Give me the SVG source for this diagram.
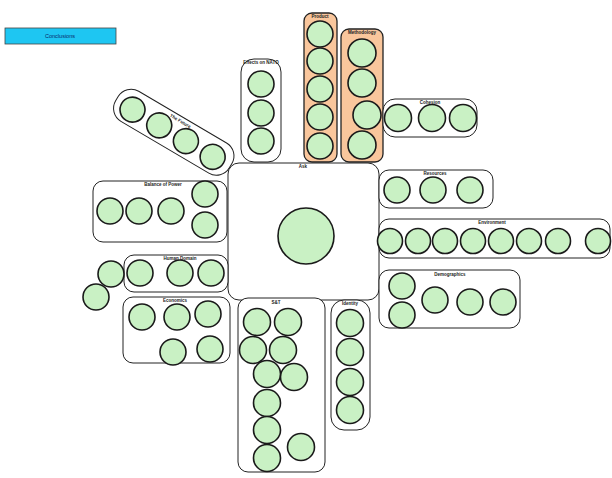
<svg xmlns="http://www.w3.org/2000/svg" width="612" height="478" viewBox="0 0 612 478">
<style>
.box{fill:#ffffff;stroke:#222;stroke-width:1}
.org{fill:#f9c69c;stroke:#222;stroke-width:1.3}
.c{fill:#c9f1c4;stroke:#1a1a1a;stroke-width:1.6}
.lbl{font-family:"Liberation Sans",Arial,sans-serif;font-size:4.5px;font-weight:bold;fill:#222;text-anchor:middle}
.ct{font-family:"Liberation Sans",Arial,sans-serif;font-size:5.5px;fill:#0a2a6a;text-anchor:middle}
</style>
<rect width="612" height="478" fill="#ffffff"/>
<g id="connectors"></g>
<g id="conclusions">
<rect x="5" y="28" width="111" height="16" fill="#1ec6f2" stroke="#444" stroke-width="0.8"/>
<text class="ct" x="60" y="38">Conclusions</text>
</g>
<g id="ask">
<rect class="box" x="228" y="163" width="151" height="137" rx="11"/>
<text class="lbl" x="303" y="168">Ask</text>
<circle class="c" cx="306" cy="236" r="28" stroke-width="1.4"/>
</g>
<g id="effects-on-nato">
<rect class="box" x="241" y="59" width="40" height="103" rx="13"/>
<text class="lbl" x="261" y="64">Effects on NATO</text>
<circle class="c" cx="261" cy="84" r="13"/>
<circle class="c" cx="261" cy="113" r="13"/>
<circle class="c" cx="261" cy="141" r="13"/>
</g>
<g id="product">
<rect class="org" x="304" y="13" width="33" height="149" rx="8"/>
<text class="lbl" x="320" y="18">Product</text>
<circle class="c" cx="320" cy="34" r="13"/>
<circle class="c" cx="320" cy="61" r="13"/>
<circle class="c" cx="320" cy="89" r="13"/>
<circle class="c" cx="320" cy="117" r="13"/>
<circle class="c" cx="320" cy="146" r="13"/>
</g>
<g id="methodology">
<rect class="org" x="341" y="29" width="42" height="133" rx="8"/>
<text class="lbl" x="362" y="34">Methodology</text>
<circle class="c" cx="362" cy="53" r="14"/>
<circle class="c" cx="362" cy="83" r="14"/>
<circle class="c" cx="367" cy="115" r="14"/>
<circle class="c" cx="362" cy="145" r="14"/>
</g>
<g id="cohesion">
<rect class="box" x="383" y="99" width="94" height="38" rx="12"/>
<text class="lbl" x="430" y="104">Cohesion</text>
<circle class="c" cx="398" cy="118" r="13.5"/>
<circle class="c" cx="432" cy="118" r="13.5"/>
<circle class="c" cx="463" cy="118" r="13.5"/>
</g>
<g id="the-future" transform="translate(173 133.5) rotate(30.5)">
<rect class="box" x="-66" y="-19" width="132" height="35" rx="15"/>
<text class="lbl" x="0" y="-13">The Future</text>
<circle class="c" cx="-47" cy="0" r="12.5"/>
<circle class="c" cx="-16" cy="0" r="12.5"/>
<circle class="c" cx="15" cy="0" r="12.5"/>
<circle class="c" cx="46" cy="0" r="12.5"/>
</g>
<g id="balance-of-power">
<rect class="box" x="93" y="181" width="134" height="61" rx="10"/>
<text class="lbl" x="163" y="186">Balance of Power</text>
<circle class="c" cx="110" cy="211" r="13"/>
<circle class="c" cx="139" cy="211" r="13"/>
<circle class="c" cx="171" cy="211" r="13"/>
<circle class="c" cx="205" cy="194" r="13"/>
<circle class="c" cx="205" cy="225" r="13"/>
</g>
<g id="human-domain">
<rect class="box" x="124" y="255" width="104" height="37" rx="10"/>
<text class="lbl" x="180" y="260">Human Domain</text>
<circle class="c" cx="140" cy="273" r="13"/>
<circle class="c" cx="180" cy="273" r="13"/>
<circle class="c" cx="211" cy="273" r="13"/>
</g>
<g id="human-domain-extra-1">
<circle class="c" cx="111" cy="274" r="13"/>
</g>
<g id="human-domain-extra-2">
<circle class="c" cx="96" cy="297" r="13"/>
</g>
<g id="economics">
<rect class="box" x="123" y="297" width="107" height="66" rx="10"/>
<text class="lbl" x="175" y="302">Economics</text>
<circle class="c" cx="142" cy="317" r="13"/>
<circle class="c" cx="177" cy="317" r="13"/>
<circle class="c" cx="208" cy="314" r="13"/>
<circle class="c" cx="173" cy="352" r="13"/>
<circle class="c" cx="210" cy="349" r="13"/>
</g>
<g id="s-and-t">
<rect class="box" x="238" y="298" width="87" height="174" rx="10"/>
<text class="lbl" x="276" y="304">S&amp;T</text>
<circle class="c" cx="257" cy="322" r="13.5"/>
<circle class="c" cx="288" cy="322" r="13.5"/>
<circle class="c" cx="253" cy="350" r="13.5"/>
<circle class="c" cx="283" cy="350" r="13.5"/>
<circle class="c" cx="267" cy="374" r="13.5"/>
<circle class="c" cx="294" cy="377" r="13.5"/>
<circle class="c" cx="267" cy="403" r="13.5"/>
<circle class="c" cx="267" cy="430" r="13.5"/>
<circle class="c" cx="301" cy="447" r="13.5"/>
<circle class="c" cx="267" cy="458" r="13.5"/>
</g>
<g id="identity">
<rect class="box" x="331" y="300" width="39" height="130" rx="13"/>
<text class="lbl" x="350" y="305">Identity</text>
<circle class="c" cx="350" cy="323" r="13.5"/>
<circle class="c" cx="350" cy="352" r="13.5"/>
<circle class="c" cx="350" cy="382" r="13.5"/>
<circle class="c" cx="350" cy="410" r="13.5"/>
</g>
<g id="resources">
<rect class="box" x="379" y="170" width="114" height="38" rx="10"/>
<text class="lbl" x="435" y="175">Resources</text>
<circle class="c" cx="397" cy="190" r="13"/>
<circle class="c" cx="433" cy="190" r="13"/>
<circle class="c" cx="470" cy="190" r="13"/>
</g>
<g id="environment">
<rect class="box" x="379" y="219" width="231" height="39" rx="10"/>
<text class="lbl" x="492" y="224">Environment</text>
<circle class="c" cx="390" cy="241" r="12.5"/>
<circle class="c" cx="418" cy="241" r="12.5"/>
<circle class="c" cx="445" cy="241" r="12.5"/>
<circle class="c" cx="473" cy="241" r="12.5"/>
<circle class="c" cx="501" cy="241" r="12.5"/>
<circle class="c" cx="529" cy="241" r="12.5"/>
<circle class="c" cx="558" cy="241" r="12.5"/>
<circle class="c" cx="598" cy="241" r="12.5"/>
</g>
<g id="demographics">
<rect class="box" x="379" y="270" width="141" height="58" rx="10"/>
<text class="lbl" x="450" y="276">Demographics</text>
<circle class="c" cx="402" cy="286" r="13"/>
<circle class="c" cx="402" cy="315" r="13"/>
<circle class="c" cx="435" cy="300" r="13"/>
<circle class="c" cx="470" cy="302" r="13"/>
<circle class="c" cx="503" cy="302" r="13"/>
</g>
</svg>
